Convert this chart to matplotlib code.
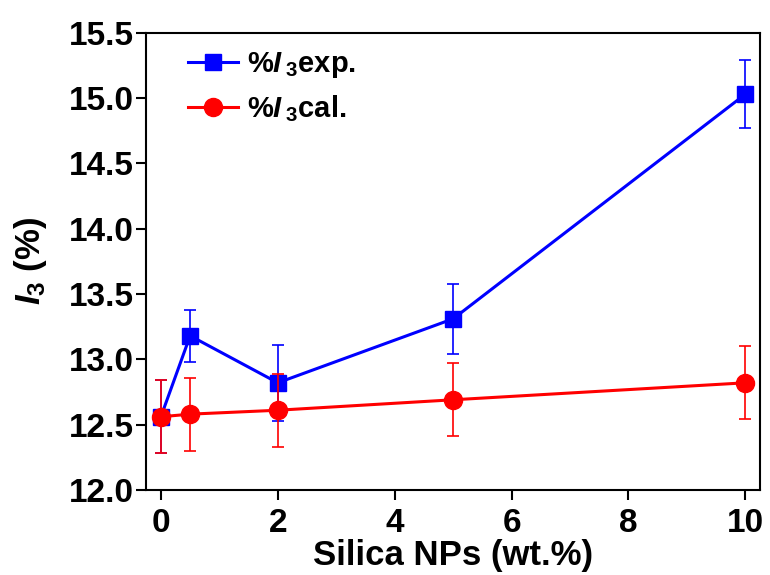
import matplotlib.pyplot as plt

plt.rcParams['font.family'] = ['Liberation Sans', 'DejaVu Sans']
plt.rcParams['font.weight'] = 'bold'
plt.rcParams['mathtext.fontset'] = 'custom'
plt.rcParams['mathtext.rm'] = 'Liberation Sans:bold'
plt.rcParams['mathtext.it'] = 'Liberation Sans:italic:bold'
plt.rcParams['mathtext.bf'] = 'Liberation Sans:bold'

# data
silica = [0, 0.5, 2, 5, 10]
i3_exp = [12.56, 13.18, 12.82, 13.31, 15.03]
i3_exp_err = [0.28, 0.20, 0.29, 0.27, 0.26]
i3_cal = [12.56, 12.58, 12.61, 12.69, 12.82]
i3_cal_err = [0.28, 0.28, 0.28, 0.28, 0.28]

fig = plt.figure(figsize=(7.7, 5.75), dpi=100)
ax = fig.add_axes([0.19, 0.148, 0.797, 0.795])

ax.errorbar(silica, i3_exp, yerr=i3_exp_err, fmt='none', ecolor='#0000ff',
            elinewidth=1.2, capsize=4, capthick=1.2)
ax.plot(silica, i3_exp, color='#0000ff', marker='s', markersize=12, linewidth=2.2,
        label=r'%$\mathit{I}\,_{3}$exp.')
ax.errorbar(silica, i3_cal, yerr=i3_cal_err, fmt='none', ecolor='#ff0000',
            elinewidth=1.2, capsize=4, capthick=1.2)
ax.plot(silica, i3_cal, color='#ff0000', marker='o', markersize=13, linewidth=2.2,
        label=r'%$\mathit{I}\,_{3}$cal.')

ax.set_xlim(-0.25, 10.25)
ax.set_ylim(12.0, 15.5)
ax.set_xticks([0, 2, 4, 6, 8, 10])
ax.set_yticks([12.0, 12.5, 13.0, 13.5, 14.0, 14.5, 15.0, 15.5])
ax.set_yticklabels(['%.1f' % v for v in ax.get_yticks()])

for s in ax.spines.values():
    s.set_linewidth(1.5)
ax.tick_params(axis='both', labelsize=24, width=1.5, length=7, direction='out')
ax.tick_params(axis='y', pad=2)
ax.tick_params(axis='x', pad=6)

ax.set_xlabel('Silica NPs (wt.%)', fontsize=25, fontweight='bold', labelpad=0)
ax.set_ylabel(r'$\mathit{I}_{3}$ (%)', fontsize=25, fontweight='bold', labelpad=14)

leg = ax.legend(loc='upper left', frameon=False, fontsize=21, handlelength=1.7,
                handletextpad=0.3, borderaxespad=0.2, labelspacing=0.45,
                bbox_to_anchor=(0.04, 1.0))

plt.savefig('out.png', dpi=100)
